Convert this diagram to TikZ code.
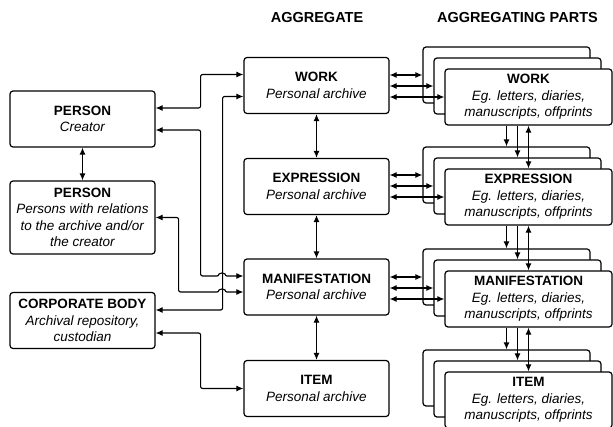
\documentclass[tikz,border=0pt]{standalone}
\usepackage{fontspec}
\setmainfont{Liberation Sans}
\usetikzlibrary{arrows.meta}
\tikzset{>={Latex[length=7pt,width=6pt]}}
\tikzset{entity/.style={draw, rounded corners=3pt, line width=1.2pt, fill=white,
    minimum width=145pt, minimum height=56pt, align=center, inner sep=0pt,
    font=\fontsize{13.5}{16.5}\selectfont}
}
\tikzset{partbox/.style={entity, minimum width=167pt}}
\tikzset{link/.style={<->, line width=1.15pt, rounded corners=2pt}}
\tikzset{feed/.style={->, line width=1.15pt}}
\tikzset{heading/.style={font=\fontsize{14.5}{16}\selectfont\bfseries}}

\begin{document}
\begin{tikzpicture}[x=1pt, y=1pt, line join = round]
\useasboundingbox (0,0) rectangle (613,426);

\node[heading] (aggr) at (317,408) {AGGREGATE};
\node[heading] (parts) at (517.5,408) {AGGREGATING PARTS};

\node[entity] (creator) at (82.5,307) {\textbf{PERSON}\\\textit{Creator}};
\node[entity, minimum height=73pt] (relpers) at (82.5,208.5) {\textbf{PERSON}\\\textit{Persons with relations}\\\textit{to the archive and/or}\\\textit{the creator}};
\node[entity] (corpbody) at (82.5,105.5) {\textbf{CORPORATE BODY}\\\textit{Archival repository,}\\\textit{custodian}};

\node[entity] (work) at (316.5,340.5) {\textbf{WORK}\\\textit{Personal archive}};
\node[entity] (expr) at (316.5,239.5) {\textbf{EXPRESSION}\\\textit{Personal archive}};
\node[entity] (manif) at (316.5,139) {\textbf{MANIFESTATION}\\\textit{Personal archive}};
\node[entity] (item) at (316.5,37.5) {\textbf{ITEM}\\\textit{Personal archive}};

\node[partbox] (workback) at (506.5,351) {};
\node[partbox] (workmid) at (517.5,340) {};
\node[partbox] (workpart) at (528.5,329) {\textbf{WORK}\\\textit{Eg. letters, diaries,}\\\textit{manuscripts, offprints}};

\node[partbox] (exprback) at (506.5,251) {};
\node[partbox] (exprmid) at (517.5,240) {};
\node[partbox] (exprpart) at (528.5,229) {\textbf{EXPRESSION}\\\textit{Eg. letters, diaries,}\\\textit{manuscripts, offprints}};

\node[partbox] (manifback) at (506.5,149) {};
\node[partbox] (manifmid) at (517.5,138) {};
\node[partbox] (manifpart) at (528.5,127) {\textbf{MANIFESTATION}\\\textit{Eg. letters, diaries,}\\\textit{manuscripts, offprints}};

\node[partbox] (itemback) at (506.5,48) {};
\node[partbox] (itemmid) at (517.5,37) {};
\node[partbox] (itempart) at (528.5,26) {\textbf{ITEM}\\\textit{Eg. letters, diaries,}\\\textit{manuscripts, offprints}};

\draw[link] (creator) -- (relpers);
\draw[link] (work) -- (expr);
\draw[link] (expr) -- (manif);
\draw[link] (manif) -- (item);

\draw[link] ([yshift=11pt]creator.east) -- ++(45,0) |- ([yshift=11pt]work.west);
\draw[link] ([yshift=10.5pt]corpbody.east) -- ++(67,0) |- ([yshift=-11pt]work.west);
\draw[link] ([yshift=-11pt]creator.east) -- ++(45,0) |- (219,150) arc[start angle=180, end angle=0, radius=3] -- ([yshift=11pt]manif.west);
\draw[link] (relpers.east) -- ++(23,0) |- (219,134) arc[start angle=180, end angle=0, radius=3] -- ([yshift=-5pt]manif.west);
\draw[link] ([yshift=-12.5pt]corpbody.east) -- ++(45,0) |- (item.west);

\draw[link] (work.east |- workback.west) -- (workback.west);
\draw[link] (work.east |- workmid.west) -- (workmid.west);
\draw[link] (work.east |- workpart.west) -- (workpart.west);
\draw[link] (expr.east |- exprback.west) -- (exprback.west);
\draw[link] (expr.east |- exprmid.west) -- (exprmid.west);
\draw[link] (expr.east |- exprpart.west) -- (exprpart.west);
\draw[link] (manif.east |- manifback.west) -- (manifback.west);
\draw[link] (manif.east |- manifmid.west) -- (manifmid.west);
\draw[link] (manif.east |- manifpart.west) -- (manifpart.west);

\draw[feed] (exprback.north |- workpart.south) -- (exprback.north);
\draw[feed] (exprmid.north |- workpart.south) -- (exprmid.north);
\draw[link] (workpart.south) -- (exprpart.north);
\draw[feed] (manifback.north |- exprpart.south) -- (manifback.north);
\draw[feed] (manifmid.north |- exprpart.south) -- (manifmid.north);
\draw[link] (exprpart.south) -- (manifpart.north);
\draw[feed] (itemback.north |- manifpart.south) -- (itemback.north);
\draw[feed] (itemmid.north |- manifpart.south) -- (itemmid.north);
\draw[link] (manifpart.south) -- (itempart.north);
\end{tikzpicture}
\end{document}
